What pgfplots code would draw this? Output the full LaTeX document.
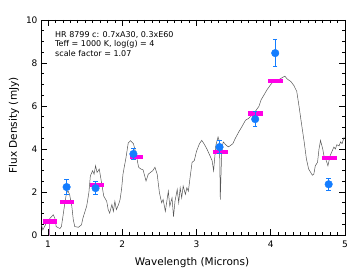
\documentclass[border=0pt]{standalone}
\usepackage{fontspec}
\setmainfont{DejaVu Sans}
\usepackage{pgfplots}
\pgfplotsset{compat=1.18}
\definecolor{ptblue}{RGB}{20,125,255}
\definecolor{barmag}{RGB}{255,0,230}
\definecolor{speccol}{RGB}{85,85,85}
\begin{document}
\begin{tikzpicture}
\useasboundingbox (-41pt,-36pt) rectangle (310pt,235pt);
\begin{axis}[
  at={(0,0)}, anchor=south west,
  scale only axis, width=304pt, height=215pt,
  xmin=0.905, xmax=5, ymin=0, ymax=10,
  xtick={1,2,3,4,5}, ytick={0,2,4,6,8,10},
  minor x tick num=9, minor y tick num=3,
  tick align=inside, major tick length=6pt, minor tick length=3pt,
  axis line style={line width=0.8pt}, every tick/.style={line width=0.6pt, black},
  /pgf/number format/assume math mode=true,
  ticklabel style={font=\fontsize{9}{10}\selectfont},
  xticklabel style={yshift=-2pt},
  xlabel={Wavelength (Microns)}, ylabel={Flux Density (mJy)},
  label style={font=\fontsize{10.5}{12}\selectfont},
  xlabel style={at={(axis description cs:0.497,-0.13)}, anchor=center},
  ylabel style={at={(axis description cs:-0.089,0.51)}, anchor=center},
  unbounded coords=jump, clip=true,
]
\addplot[color=speccol, line width=0.5pt] coordinates {
(0.91,0.47) (0.93,0.24) (0.98,0.57) (1.02,0.75) (1.07,0.94) (1.09,0.80) (1.11,0.39)
(1.16,0.30) (1.18,0.39) (1.20,0.86) (1.23,1.57) (1.25,1.97) (1.27,2.04) (1.29,1.89)
(1.32,1.34) (1.34,0.71) (1.36,0.39) (1.41,0.36) (1.45,0.47) (1.47,0.79) (1.52,1.34)
(1.55,1.97) (1.57,2.75) (1.60,2.99) (1.62,2.83) (1.64,3.22) (1.66,2.91) (1.69,3.07)
(1.72,2.44) (1.75,1.81) (1.79,1.57) (1.81,1.18) (1.83,1.02) (1.86,1.42) (1.88,1.10)
(1.90,1.57) (1.92,1.18) (1.95,1.42) (1.97,1.65) (1.99,2.12) (2.01,2.85) (2.05,3.60)
(2.08,4.28) (2.11,4.39) (2.15,4.25) (2.19,3.69) (2.22,3.15) (2.25,3.07) (2.28,3.03)
(2.32,2.51) (2.35,2.83) (2.38,2.91) (2.41,2.99) (2.44,3.15) (2.47,2.83) (2.50,1.97)
(2.53,1.50) (2.55,1.65) (2.58,1.10) (2.60,1.57) (2.62,2.04) (2.64,1.34) (2.67,1.73)
(2.69,0.86) (2.71,1.57) (2.74,2.12) (2.76,1.50) (2.78,2.20) (2.80,1.73) (2.82,2.28)
(2.85,1.89) (2.87,2.20) (2.89,2.04) (2.91,2.59) (2.94,3.38) (2.97,3.46) (3.00,3.90)
(3.04,4.25) (3.07,4.40) (3.10,4.25) (3.14,4.00) (3.17,3.77) (3.21,3.46) (3.23,2.99)
(3.24,3.38) (3.26,4.17) (3.29,4.56) (3.31,4.33) (3.32,1.65) (3.34,4.00) (3.36,4.33)
(3.40,4.17) (3.43,4.10) (3.46,4.17) (3.49,4.25) (3.52,4.48) (3.57,4.80) (3.61,5.03)
(3.66,5.34) (3.70,5.42) (3.75,5.58) (3.79,5.74) (3.84,5.98) (3.87,6.29) (3.91,6.52)
(3.95,6.76) (4.00,7.00) (4.04,7.16) (4.09,7.16) (4.11,7.23) (4.15,7.31) (4.19,7.39)
(4.22,7.26) (4.27,7.14) (4.31,6.96) (4.35,6.68) (4.38,6.00) (4.41,5.27) (4.45,4.33)
(4.48,3.54) (4.51,3.07) (4.56,2.78) (4.58,2.83) (4.60,3.22) (4.63,3.38) (4.65,4.00)
(4.67,4.40) (4.70,4.00) (4.72,3.62) (4.74,3.54) (4.77,3.22) (4.80,3.69) (4.83,3.93)
(4.85,4.09) (4.87,4.00) (4.89,4.20) (4.92,4.14) (4.94,4.33) (4.96,4.25) (4.99,4.56)
};
% faint error bar at 1.02 (point below axis)
\addplot[color=violet!50, line width=0.6pt] coordinates {(1.02,-0.6) (1.02,0.52)};
% model band fluxes
\addplot[color=barmag, line width=4.3pt, line cap=butt] coordinates {
(0.93,0.63) (1.12,0.63) (1.12,nan)
(1.16,1.52) (1.35,1.52) (1.35,nan)
(1.56,2.33) (1.75,2.33) (1.75,nan)
(2.10,3.62) (2.28,3.62) (2.28,nan)
(3.22,3.85) (3.42,3.85) (3.42,nan)
(3.69,5.65) (3.89,5.65) (3.89,nan)
(3.96,7.16) (4.16,7.16) (4.16,nan)
(4.69,3.57) (4.89,3.57)
};
% measured photometry
\addplot[color=ptblue, only marks, mark=*, mark size=3.8pt, mark options={fill=ptblue, draw=ptblue},
  error bars/.cd, y dir=both, y explicit,
  error bar style={line width=0.6pt, color=ptblue}, error mark options={rotate=90, mark size=2.2pt, line width=0.6pt, color=ptblue}]
coordinates {
(1.25,2.23) +- (0,0.35)
(1.64,2.18) +- (0,0.30)
(2.15,3.77) +- (0,0.25)
(3.31,4.09) +- (0,0.30)
(3.79,5.39) +- (0,0.35)
(4.06,8.46) +- (0,0.62)
(4.78,2.36) +- (0,0.28)
};
\node[anchor=north west, align=left, inner sep=0pt, font=\fontsize{8}{9.5}\selectfont]
  at (rel axis cs:0.046,0.948) {HR 8799 c: 0.7xA30, 0.3xE60\\Teff = 1000 K, log(g) = 4\\scale factor = 1.07};
\end{axis}
\end{tikzpicture}
\end{document}
